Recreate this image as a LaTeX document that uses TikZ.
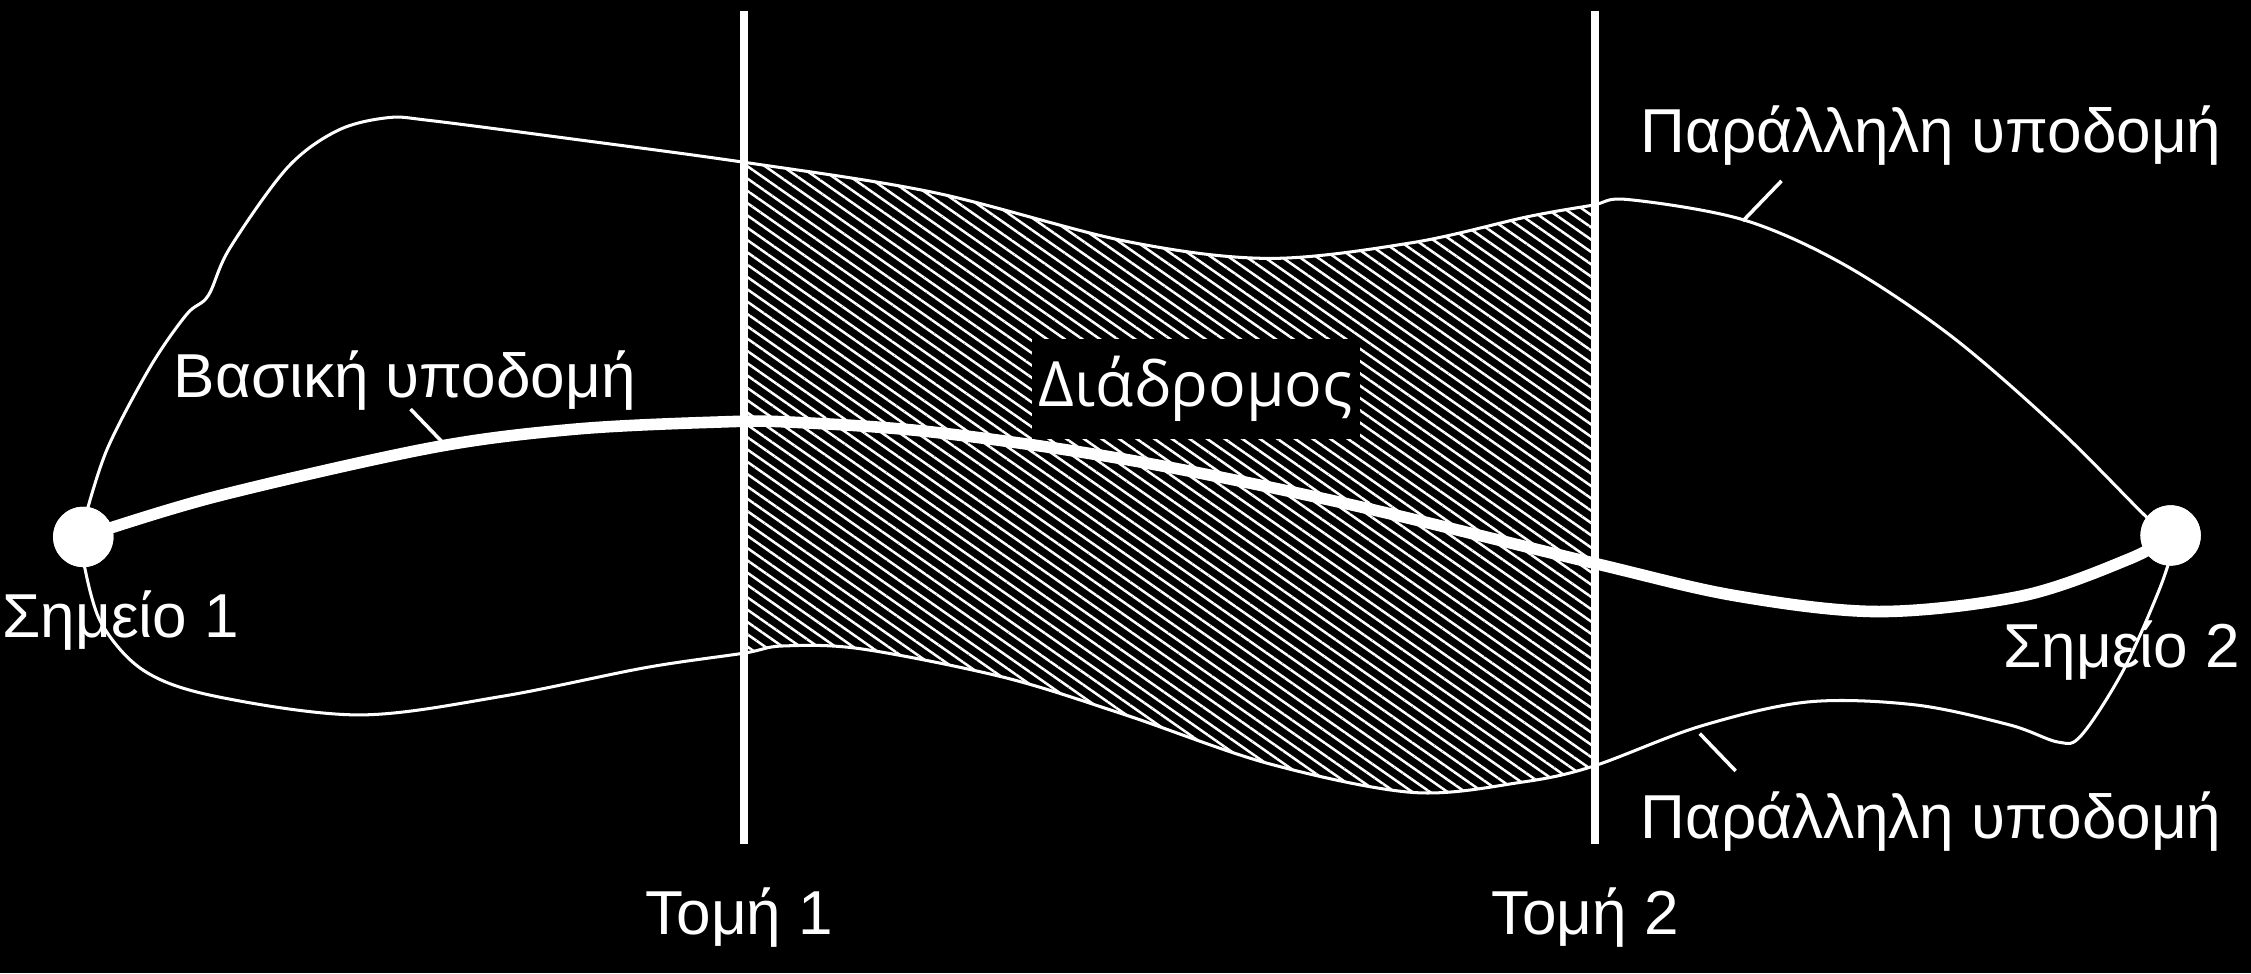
\documentclass[tikz,border=0pt]{standalone}
\usepackage{fontspec}
\setmainfont{Liberation Sans}
\newfontfamily\labelfont{Open Sans}
\usetikzlibrary{patterns.meta}

\tikzset{
  thinline/.style={draw=white, line width=0.6pt},
  thickline/.style={draw=white, line width=2.3pt, line cap=round},
  cutline/.style={draw=white, line width=1.6pt},
  leader/.style={draw=white, line width=0.7pt},
  lbl/.style={text=white, font=\fontsize{12.3}{14}\selectfont, inner sep=0pt, anchor=base},
  dot/.style={circle, fill=white, minimum size=4.2mm, inner sep=0pt}
}

\begin{document}
\begin{tikzpicture}[x=0.1mm, y=-0.1mm]
    % Background
    \fill[black] (0,0) rectangle (1568,678);
    \useasboundingbox (0,0) rectangle (1568,678);

    % Outline of the parallel infrastructure
    \def\upperpts{(60,358) (75,312) (105,255) (130,219) (145,206) (160,173) (200,117) (235,91) (270,82) (300,84) (400,97) (518,113) (650,134) (784,168) (884,180) (984,169) (1064,151) (1109,143) (1134,139) (1214,153) (1284,184) (1359,234) (1434,299) (1494,359) (1512,374)}
    \def\lowerpts{(1514,381) (1504,411) (1479,467) (1450,512) (1434,517) (1400,505) (1334,491) (1259,489) (1184,506) (1109,534) (1059,545) (984,552) (884,532) (784,498) (700,472) (600,452) (545,450) (518,455) (450,465) (350,485) (250,498) (150,485) (100,467) (70,433) (58,390)}

    % Hatched corridor between the two cuts
    \begin{scope}
      \clip (518,0) rectangle (1111,678);
      \fill[pattern={Lines[angle=-35, distance=2pt, line width=0.5pt]}, pattern color=white]
        plot[smooth, tension=0.55] coordinates {\upperpts}
        -- plot[smooth, tension=0.55] coordinates {\lowerpts} -- cycle;
    \end{scope}

    \draw[thinline] plot[smooth, tension=0.55] coordinates {\upperpts};
    \draw[thinline] plot[smooth, tension=0.55] coordinates {\lowerpts};

    % Cuts
    \foreach \i/\x in {1/518, 2/1111} {
      \coordinate (cut\i top) at (\x,8);
      \coordinate (cut\i bot) at (\x,588);
      \draw[cutline] (cut\i top) -- (cut\i bot);
    }
    \node[lbl] (cut1lbl) at (515,651) {Τομή 1};
    \node[lbl] (cut2lbl) at (1104,651) {Τομή 2};

    % Main infrastructure
    \node[dot] (p1) at (58,374) {};
    \node[dot] (p2) at (1512,373) {};
    \draw[thickline] (p1.center) plot[smooth, tension=0.55] coordinates {(58,374) (150,346) (300,312) (400,299) (500,294) (550,294) (650,301) (784,320) (934,350) (1109,392) (1209,415) (1309,426) (1409,415) (1484,389) (1512,373)};
    \node[dot] at (p1) {};
    \node[dot] at (p2) {};

    % Labels
    \node[lbl] (base) at (282,277) {Βασική υποδομή};
    \node[lbl] (par1) at (1345,106) {Παράλληλη υποδομή};
    \node[lbl] (par2) at (1345,584) {Παράλληλη υποδομή};
    \node[lbl] (p1lbl) at (84,444) {Σημείο 1};
    \node[lbl] (p2lbl) at (1478,465) {Σημείο 2};
    \node[fill=black, text=white, font=\labelfont\fontsize{12.4}{15}\selectfont,
          minimum height=5.8mm, inner xsep=0.5mm] (corr) at (833,271) {Διάδρομος};

    % Leaders
    \coordinate (baseend) at (312,312);
    \coordinate (par1end) at (1214,154);
    \coordinate (par2end) at (1184,511);
    \draw[leader] (286,285) -- (baseend);
    \draw[leader] (1241,126) -- (par1end);
    \draw[leader] (1209,537) -- (par2end);

\end{tikzpicture}
\end{document}
